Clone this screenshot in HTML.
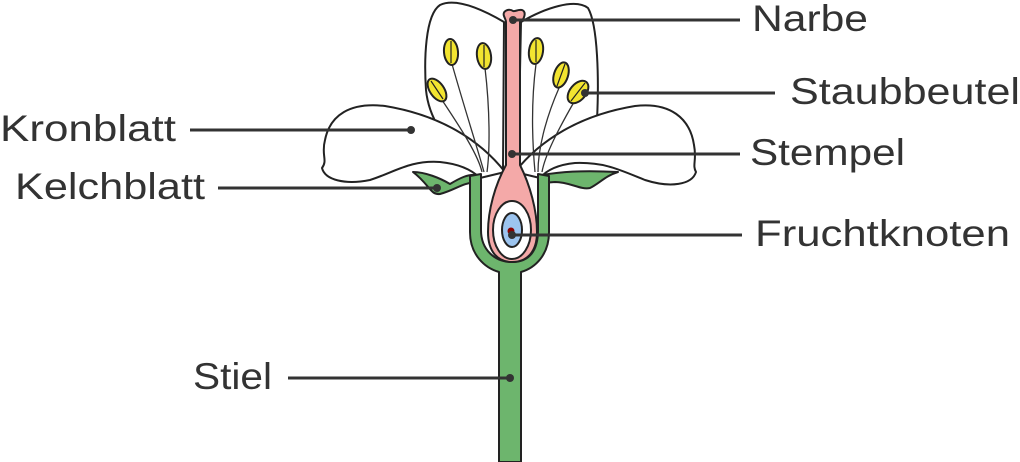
<!DOCTYPE html>
<html><head><meta charset="utf-8"><style>
html,body{margin:0;padding:0;background:#fff;}
svg{display:block}
text{font-family:"Liberation Sans",sans-serif;font-size:37px;fill:#333;}
</style></head><body>
<svg width="1020" height="462" viewBox="0 0 1020 462">
<g stroke="#222" stroke-width="2" fill="#fff" stroke-linejoin="round">
<!-- upper petals -->
<path d="M504,22 C480,8 455,-2 440,5 C425,15 424,60 426,90 C430,130 460,155 482,172 L503,170 Z"/>
<path d="M521,22 C545,8 575,-2 588,8 C598,25 599,80 597,120 C594,155 560,165 540,172 L518,170 Z"/>
<!-- lower petals -->
<path d="M505,172 C480,140 440,115 385,106 C350,102 330,115 325,140 C321,155 328,160 322,168 C325,180 345,185 370,180 C395,172 410,160 440,162 C460,164 472,170 480,178 Z"/>
<path d="M515,172 C540,140 580,115 635,106 C670,102 690,118 694,145 C697,160 692,165 696,172 C692,185 670,188 645,180 C620,170 605,162 575,163 C555,165 545,172 540,178 Z"/>
</g>
<!-- filaments -->
<g stroke="#333" stroke-width="1.3" fill="none">
<path d="M452,64 C465,110 478,150 484,172"/>
<path d="M485,68 C490,110 490,150 487,172"/>
<path d="M442,100 C462,130 478,155 482,172"/>
<path d="M536,64 C530,110 533,150 535,172"/>
<path d="M559,88 C545,120 538,150 538,172"/>
<path d="M574,102 C558,130 545,155 542,172"/>
</g>
<!-- anthers -->
<g stroke="#222" stroke-width="2" fill="#f2e430">
<ellipse cx="451" cy="52" rx="7" ry="13" transform="rotate(-5 451 52)"/>
<ellipse cx="484" cy="56" rx="7" ry="13" transform="rotate(-8 484 56)"/>
<ellipse cx="437" cy="90" rx="7" ry="13" transform="rotate(-35 437 90)"/>
<ellipse cx="536" cy="51" rx="7" ry="13" transform="rotate(8 536 51)"/>
<ellipse cx="561" cy="75" rx="7" ry="13" transform="rotate(18 561 75)"/>
<ellipse cx="578" cy="92" rx="8" ry="13" transform="rotate(40 578 92)"/>
</g>
<g stroke="#222" stroke-width="1.2">
<line x1="451" y1="41" x2="451" y2="63"/><line x1="484" y1="45" x2="484" y2="67"/>
<line x1="431" y1="81" x2="443" y2="99"/><line x1="536" y1="40" x2="536" y2="62"/>
<line x1="565" y1="64" x2="557" y2="86"/><line x1="585" y1="83" x2="571" y2="101"/>
</g>
<!-- sepals -->
<g stroke="#222" stroke-width="2" fill="#6db56d" stroke-linejoin="round">
<path d="M413,172 C425,172 440,178 450,184 C460,178 468,174 476,175 L476,182 C462,183 455,190 440,194 C430,195 430,185 413,172 Z"/>
<path d="M542,175 C560,172 580,170 618,172 C605,176 600,183 590,188 C580,190 570,182 555,182 L542,183 Z"/>
<!-- receptacle & stem -->
<path d="M470,176 L481,174 L481,230 C481,250 495,262 512,262 C530,262 538,250 538,230 L538,174 L549,176 L549,232 C549,255 535,268 521,272 L521,462 L499,462 L499,272 C485,268 470,255 470,232 Z"/>
</g>
<!-- pistil -->
<path d="M506,22 L506,165 C495,185 488,210 488,232 C488,252 498,262 512,262 C527,262 537,252 537,232 C537,210 530,185 520,165 L520,22 C524,20 527,12 522,10 C518,9 515,12 513,11 C509,8 502,11 504,16 C505,19 506,20 506,22 Z" fill="#f4a9a8" stroke="#222" stroke-width="2" stroke-linejoin="round"/>
<ellipse cx="512" cy="230" rx="19" ry="29" fill="#fff" stroke="#222" stroke-width="2"/>
<ellipse cx="512" cy="230" rx="10" ry="17" fill="#9cc4ef" stroke="#222" stroke-width="2"/>
<circle cx="511" cy="231" r="3.5" fill="#8b0000"/>
<!-- leader lines -->
<g stroke="#333" stroke-width="3">
<line x1="513" y1="20" x2="740" y2="20"/>
<line x1="584" y1="93" x2="775" y2="93"/>
<line x1="190" y1="130" x2="411" y2="130"/>
<line x1="512" y1="154" x2="740" y2="154"/>
<line x1="218" y1="188" x2="437" y2="188"/>
<line x1="512" y1="235" x2="742" y2="235"/>
<line x1="288" y1="378" x2="510" y2="378"/>
</g>
<g fill="#333">
<circle cx="513" cy="20" r="4"/><circle cx="585" cy="93" r="4"/><circle cx="411" cy="130" r="4"/>
<circle cx="512" cy="154" r="4"/><circle cx="437" cy="188" r="4"/><circle cx="512" cy="235" r="4"/><circle cx="510" cy="378" r="4"/>
</g>
<text x="752" y="31" textLength="116" lengthAdjust="spacingAndGlyphs">Narbe</text>
<text x="790" y="104" textLength="230" lengthAdjust="spacingAndGlyphs">Staubbeutel</text>
<text x="0" y="141" textLength="176" lengthAdjust="spacingAndGlyphs">Kronblatt</text>
<text x="750" y="165" textLength="155" lengthAdjust="spacingAndGlyphs">Stempel</text>
<text x="15" y="199" textLength="190" lengthAdjust="spacingAndGlyphs">Kelchblatt</text>
<text x="755" y="246" textLength="255" lengthAdjust="spacingAndGlyphs">Fruchtknoten</text>
<text x="193" y="389" textLength="79" lengthAdjust="spacingAndGlyphs">Stiel</text>
</svg>
</body></html>
